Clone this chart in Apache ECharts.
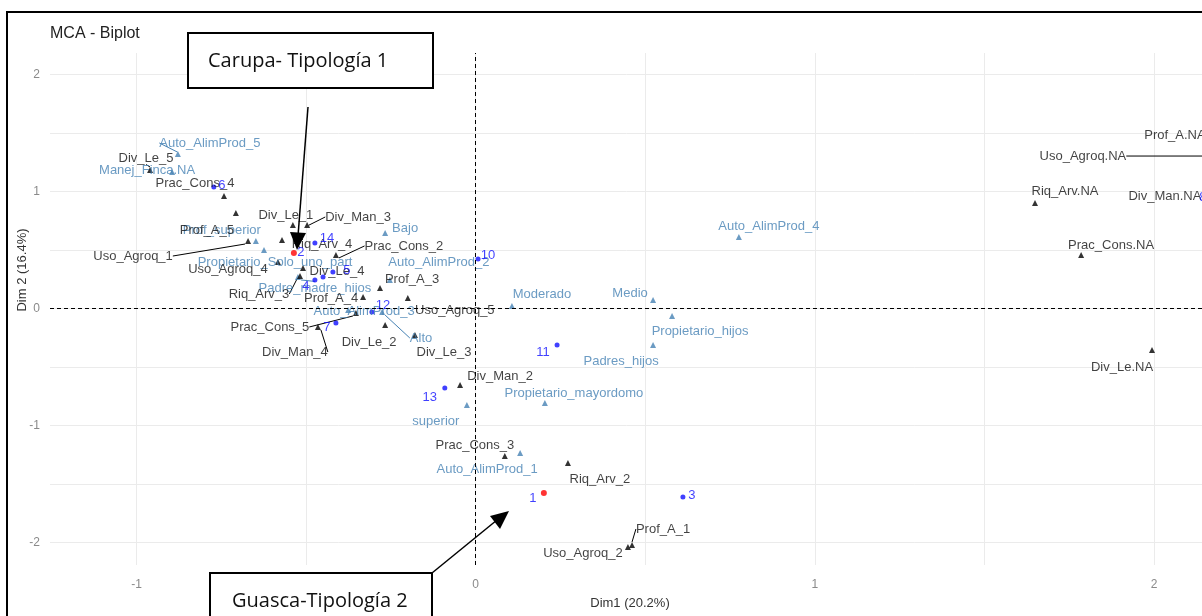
<!DOCTYPE html>
<html>
<head>
<meta charset="utf-8">
<script src="https://cdn.jsdelivr.net/npm/echarts@6/dist/echarts.min.js"></script>
<style>html,body{margin:0;padding:0;background:#fff}#c{width:1202px;height:616px}</style>
</head>
<body>
<div id="c"></div>
<script>
// ---------- DATA ----------
// Individuals (rows)
const indNames = ['1','2','3','4','5','6','7','8','9','10','11','12','13','14'];
const indX = [0.201,-0.536,0.611,-0.474,-0.421,-0.772,-0.412,2.159,-0.450,0.007,0.240,-0.306,-0.091,-0.474];
const indY = [-1.579,0.473,-1.613,0.242,0.310,1.037,-0.126,0.960,0.268,0.421,-0.314,-0.032,-0.681,0.558];
const indHighlighted = ['1','2'];

// Active variable categories
const actNames = ['Div_Le_5','Prac_Cons_4','Prof_A_5','Div_Le_1','Div_Man_3','Uso_Agroq_1','Riq_Arv_4','Prac_Cons_2',
  'Uso_Agroq_4','Div_Le_4','Riq_Arv_3','Prof_A_3','Prof_A_4','Uso_Agroq_5','Prac_Cons_5','Div_Man_4','Div_Le_2','Div_Le_3',
  'Div_Man_2','Prac_Cons_3','Riq_Arv_2','Prof_A_1','Uso_Agroq_2','Riq_Arv.NA','Prac_Cons.NA','Div_Le.NA','Div_Man.NA',
  'Uso_Agroq.NA','Prof_A.NA'];
const actX = [-0.960,-0.742,-0.707,-0.539,-0.497,-0.671,-0.571,-0.412,-0.583,-0.509,-0.518,-0.282,-0.332,-0.200,-0.353,-0.465,-0.267,-0.179,
  -0.046,0.086,0.272,0.461,0.449,1.649,1.785,1.994,2.153,2.153,2.156];
const actY = [1.182,0.960,0.815,0.712,0.712,0.575,0.584,0.456,0.396,0.344,0.276,0.174,0.097,0.088,-0.040,-0.160,-0.143,-0.228,
  -0.656,-1.262,-1.322,-2.023,-2.040,0.900,0.456,-0.356,0.883,1.327,1.370];

// Supplementary variable categories
const supNames = ['Auto_AlimProd_5','Manej_Finca.NA','Prof_superior','Bajo','Propietario_Solo_uno_part','Padre_madre_hijos',
  'Auto_AlimProd_2','Auto_AlimProd_3','Alto','Moderado','Medio','Propietario_hijos','Padres_hijos','Auto_AlimProd_4',
  'Propietario_mayordomo','superior','Auto_AlimProd_1'];
const supX = [-0.878,-0.895,-0.648,-0.267,-0.624,-0.524,-0.253,-0.376,-0.276,0.107,0.523,0.579,0.523,0.776,0.204,-0.026,0.131];
const supY = [1.319,1.165,0.575,0.644,0.498,0.268,0.242,-0.015,-0.032,0.020,0.071,-0.066,-0.314,0.609,-0.809,-0.826,-1.237];

// Axis texts
const titleText = 'MCA - Biplot';
const xName = 'Dim1 (20.2%)';
const yName = 'Dim 2 (16.4%)';
const box1Text = 'Carupa- Tipología 1';
const box2Text = 'Guasca-Tipología 2';

// ---------- LAYOUT (label placement, repel-like) ----------
const indLabelOffset = {'1':[-11,5],'2':[7,-1],'3':[9,-2],'4':[-9,6],'5':[14,-2],'6':[8,-2],'7':[-9,4],'8':[-5,1],
  '9':null,'10':[10,-4],'11':[-14,7],'12':[11,-7],'13':[-15,9],'14':[12,-5]};
const actLabelOffset = {'Div_Le_5':[-4,-12],'Prac_Cons_4':[-29,-13],'Prof_A_5':[-29,17],'Div_Le_1':[-7,-10],'Div_Man_3':[51,-8],
  'Uso_Agroq_1':[-115,15],'Riq_Arv_4':[40,4],'Prac_Cons_2':[68,-9],'Uso_Agroq_4':[-50,7],'Div_Le_4':[34,3],'Riq_Arv_3':[-41,18],
  'Prof_A_3':[32,-9],'Prof_A_4':[-32,1],'Uso_Agroq_5':[47,12],'Prac_Cons_5':[-86,14],'Div_Man_4':[-23,25],'Div_Le_2':[-16,17],
  'Div_Le_3':[29,17],'Div_Man_2':[40,-9],'Prac_Cons_3':[-30,-11],'Riq_Arv_2':[32,16],'Prof_A_1':[31,-16],'Uso_Agroq_2':[-45,6],
  'Riq_Arv.NA':[30,-12],'Prac_Cons.NA':[30,-10],'Div_Le.NA':[-30,17],'Div_Man.NA':[-41,-9],'Uso_Agroq.NA':[-123,3],'Prof_A.NA':[-32,-13]};
const actSegments = ['Div_Man_3','Uso_Agroq_1','Prac_Cons_2','Riq_Arv_3','Prac_Cons_5','Div_Man_4','Prof_A_1','Uso_Agroq.NA','Div_Le_5'];
const supLabelOffset = {'Auto_AlimProd_5':[32,-11],'Manej_Finca.NA':[-25,-2],'Prof_superior':[-34,-11],'Bajo':[20,-5],
  'Propietario_Solo_uno_part':[11,12],'Padre_madre_hijos':[17,11],'Auto_AlimProd_2':[49,-18],'Auto_AlimProd_3':[16,1],
  'Alto':[39,26],'Moderado':[30,-12],'Medio':[-23,-7],'Propietario_hijos':[28,15],'Padres_hijos':[-32,16],
  'Auto_AlimProd_4':[30,-11],'Propietario_mayordomo':[29,-10],'superior':[-31,16],'Auto_AlimProd_1':[-33,16]};
const supSegments = ['Alto','Padre_madre_hijos','Auto_AlimProd_5'];

const FONT = 'Liberation Sans, Arial, sans-serif';
const BLACK = '#111111', STEEL = '#4682B4', BLUE = '#1010FF', RED = '#FF0000';

function items(names, xs, ys, offsets, segs, extra) {
  return names.map((n, i) => {
    const off = offsets[n];
    const it = {
      name: n, value: [xs[i], ys[i]],
      label: off ? { show: true, offset: off } : { show: false },
      labelLine: { show: !!(segs && segs.indexOf(n) >= 0) }
    };
    if (extra) extra(it, n);
    return it;
  });
}

const chart = echarts.init(document.getElementById('c'), null, { renderer: 'canvas' });

const labelBase = (color) => ({
  show: true, position: 'inside', formatter: '{b}', color: color,
  fontFamily: FONT, fontSize: 13, align: 'center', verticalAlign: 'middle'
});

const intOnly = v => Math.abs(v - Math.round(v)) < 1e-6 ? String(Math.round(v)) : '';

const option = {
  animation: false,
  backgroundColor: '#ffffff',
  title: {
    text: titleText, left: 50, top: 26, padding: 0,
    textStyle: { fontFamily: FONT, fontSize: 16, fontWeight: 'normal', color: '#222' }
  },
  grid: { left: 50, top: 53, right: -8, bottom: 51, containLabel: false, outerBoundsMode: 'none' },
  xAxis: {
    type: 'value', min: -1.255, max: 2.165, splitNumber: 7,
    name: xName, nameLocation: 'middle', nameGap: 32, nameMoveOverlap: false,
    nameTextStyle: { fontFamily: FONT, fontSize: 13, color: '#333' },
    axisLine: { show: false }, axisTick: { show: false },
    axisLabel: { fontFamily: FONT, fontSize: 12, color: '#8a8a8a', margin: 14, formatter: intOnly },
    splitLine: { show: true, showMinLine: false, showMaxLine: false, lineStyle: { color: '#ebebeb', width: 1 } }
  },
  yAxis: {
    type: 'value', min: -2.194, max: 2.182, splitNumber: 9,
    name: yName, nameLocation: 'middle', nameGap: 21, nameRotate: 90, nameMoveOverlap: false,
    nameTextStyle: { fontFamily: FONT, fontSize: 13, color: '#333', padding: [0, 0, 0, 78] },
    axisLine: { show: false }, axisTick: { show: false },
    axisLabel: { fontFamily: FONT, fontSize: 12, color: '#8a8a8a', margin: 10, formatter: intOnly },
    splitLine: { show: true, showMinLine: false, showMaxLine: false, lineStyle: { color: '#ebebeb', width: 1 } }
  },
  series: [
    {
      type: 'scatter', name: 'axes0', data: [], silent: true,
      markLine: {
        silent: true, symbol: 'none', label: { show: false },
        lineStyle: { color: '#000', type: [4, 3], width: 1 },
        data: [{ xAxis: 0 }, { yAxis: 0 }]
      }
    },
    {
      type: 'scatter', name: 'supplementary', symbol: 'triangle', symbolSize: 6, clip: false,
      itemStyle: { color: STEEL },
      label: labelBase(STEEL),
      labelLine: { lineStyle: { color: STEEL, width: 1 } },
      data: items(supNames, supX, supY, supLabelOffset, supSegments)
    },
    {
      type: 'scatter', name: 'active', symbol: 'triangle', symbolSize: 6, clip: false,
      itemStyle: { color: '#000' },
      label: labelBase(BLACK),
      labelLine: { lineStyle: { color: '#000', width: 1 } },
      data: items(actNames, actX, actY, actLabelOffset, actSegments)
    },
    {
      type: 'scatter', name: 'individuals', symbol: 'circle', symbolSize: 5, clip: false,
      itemStyle: { color: BLUE },
      label: labelBase(BLUE),
      data: items(indNames, indX, indY, indLabelOffset, null, (it, n) => {
        if (indHighlighted.indexOf(n) >= 0) { it.itemStyle = { color: RED }; it.symbolSize = 6; }
      })
    }
  ],
  graphic: [
    { type: 'rect', z: 100, silent: true, shape: { x: 7, y: 12, width: 1400, height: 800 },
      style: { fill: 'none', stroke: '#000', lineWidth: 2 } },
    // Box 1
    { type: 'rect', z: 100, shape: { x: 188, y: 33, width: 245, height: 55 },
      style: { fill: '#fff', stroke: '#000', lineWidth: 2 } },
    { type: 'text', z: 101, x: 208, y: 61,
      style: { text: box1Text, fill: '#111', font: '20px "Open Sans", sans-serif', textVerticalAlign: 'middle' } },
    { type: 'line', z: 100, shape: { x1: 308, y1: 107, x2: 298, y2: 236 }, style: { stroke: '#000', lineWidth: 1.5 } },
    { type: 'polygon', z: 100, shape: { points: [[297, 250], [290, 232], [306, 233]] }, style: { fill: '#000' } },
    // Box 2
    { type: 'rect', z: 100, shape: { x: 210, y: 573, width: 222, height: 80 },
      style: { fill: '#fff', stroke: '#000', lineWidth: 2 } },
    { type: 'text', z: 101, x: 232, y: 601,
      style: { text: box2Text, fill: '#111', font: '20px "Open Sans", sans-serif', textVerticalAlign: 'middle' } },
    { type: 'line', z: 100, shape: { x1: 432, y1: 573, x2: 497, y2: 520 }, style: { stroke: '#000', lineWidth: 1.5 } },
    { type: 'polygon', z: 100, shape: { points: [[509, 511], [490, 516], [500, 529]] }, style: { fill: '#000' } }
  ]
};
chart.setOption(option);
</script>
</body>
</html>
